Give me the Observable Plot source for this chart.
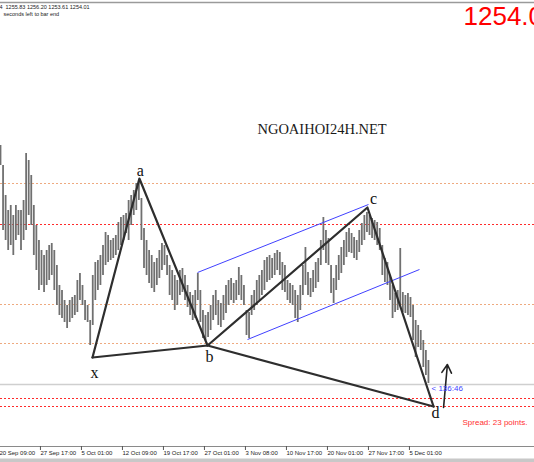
<!DOCTYPE html>
<html><head><meta charset="utf-8">
<script src="https://cdn.jsdelivr.net/npm/d3@7"></script>
<script src="https://cdn.jsdelivr.net/npm/@observablehq/plot@0.6"></script>
<style>
body{margin:0;background:#fff;}
</style></head><body><div id="chart"></div>
<script>
// bar highs / lows (price), one per H8 bar
const high = [1313.75,1308.75,1301.25,1297.5,1298.75,1296.25,1298.75,1297.5,1297.5,1300,
1311.75,1310,1306.25,1298.75,1293.75,1290,1287.5,1286.25,1287.5,1288.75,
1289.25,1287.5,1283.75,1278.75,1277.5,1275,1273.75,1275,1275.75,1276.25,
1280,1281.75,1278.75,1275,1273.75,1270,1281.25,1284.5,1285,1286.25,
1288.75,1292,1291.25,1290,1290.5,1291.25,1294.5,1295.75,1296.25,1296.75,
1300,1301.25,1302.5,1304.25,1305,1300.5,1293,1290,1287.5,1286.25,
1284.5,1285.5,1287.5,1289.25,1288.75,1286.25,1283.75,1282.5,1281.25,1280,
1282.5,1283,1281.25,1278.75,1277,1276.25,1277.5,1281.75,1277.5,1272.5,
1271.25,1272,1273.75,1276.25,1277.5,1275,1274.25,1276.25,1278.75,1280,
1280.5,1279.25,1280,1283.25,1281.25,1278.75,1272.5,1272,1276.25,1277.5,
1280,1281.25,1282.5,1285,1285.75,1286.25,1285.5,1286.75,1287.5,1287,
1284.5,1283.75,1280,1279.25,1278.75,1277.5,1276.25,1278.75,1283.75,1288.25,
1282,1280.5,1282.5,1284.5,1285.5,1290,1295.75,1292.5,1290.5,1283.75,
1280.5,1283.75,1286.25,1288.25,1290,1292,1293,1291.75,1290.75,1290,
1292.5,1294.25,1296.25,1297,1296.25,1295.5,1295,1294.5,1293,1288.75,
1285.5,1284.5,1281.25,1278.75,1276.75,1277.5,1288,1277,1276.25,1276.75,
1275.75,1273.75,1270,1268.75,1267.5,1265,1262.5,1260];
const low = [1308.75,1292.5,1290,1287.5,1288.75,1286.25,1290,1291.25,1287.5,1290,
1292.5,1296.25,1293.75,1286.25,1282.5,1277.5,1278.75,1277,1278.75,1280,
1281.25,1277.5,1273.75,1271.25,1270.5,1269.5,1268,1269.5,1270.5,1271.25,
1272,1275,1273.75,1270,1269.5,1263.75,1268.75,1275,1277.5,1278.75,
1281.25,1283.75,1284.5,1285,1285.5,1286.25,1287.5,1288.75,1290,1291.75,
1290,1293.75,1296.25,1297.5,1300,1290,1283,1281.25,1279.25,1278,
1277,1278.75,1280.5,1282.5,1283.75,1281.25,1276.25,1275,1272.5,1273.75,
1276.25,1277,1275,1273.25,1271.25,1270,1270.5,1275,1269.5,1265.5,
1265,1265.75,1267.5,1270,1271.25,1268.75,1268.25,1270,1271.75,1273.75,
1275,1274.25,1275,1276.25,1275,1273.75,1266.25,1265.5,1271.25,1272.5,
1273.75,1275,1276.25,1277.5,1279.5,1280,1280.5,1281.25,1282.5,1281.25,
1277.5,1277,1275,1274.25,1273.75,1270.5,1269.5,1272.5,1276.25,1278.75,
1276.25,1275.75,1277,1278,1279.5,1283.75,1287.5,1284.25,1283.75,1276.75,
1274.25,1277.5,1280,1281.75,1283.75,1285.75,1287,1286.75,1285.5,1285,
1287,1288.75,1290,1292,1291.25,1290.5,1290,1288.75,1287.5,1281.25,
1279.5,1278.75,1275,1270.5,1272,1272.5,1273.75,1272,1271.75,1271.25,
1270.75,1265,1260.75,1263.25,1262.5,1258.25,1256.25,1254.25];

// time axis
const tickIndex = [-1,15,31,47,63,79,95,111,127,143,159];
const tickLabels = ["20 Sep 09:00","27 Sep 17:00","5 Oct 01:00","12 Oct 09:00","19 Oct 17:00","27 Oct 01:00","3 Nov 08:00","10 Nov 17:00","20 Nov 01:00","27 Nov 17:00","5 Dec 01:00"];

// XABCD pattern pivots
const ptName  = ["x","a","b","c","d"];
const ptIndex = [35.9, 54.2, 80.8, 143.2, 169.0];
const ptPrice = [1260.75, 1305.5, 1263.75, 1298.25, 1248.5];
// label anchor points
const lblIndex = [36.7, 54.6, 81.6, 145.6, 169.8];
const lblPrice = [1257.0, 1307.3, 1261.0, 1300.3, 1246.8];

// channel lines
const chStartIndex = [76.9, 96.4];
const chStartPrice = [1282, 1265.25];
const chEndIndex   = [143.6, 163.5];
const chEndPrice   = [1299, 1282.75];

// horizontal levels
const levelPrice = [1304.25, 1294, 1274, 1264.25, 1250.5, 1248.5];
const levelKind  = ["fib","stop","fib","fib","stop","stop"];
const bidPrice = 1254.0;

// projection arrow
const arrowFrom = [172.9, 1248.25];
const arrowTo   = [174.4, 1259.0];

// texts
const headerText = "XAUUSD,H4  1255.83 1256.20 1253.61 1254.01";
const timerText = "seconds left to bar end";
const bigPrice = "1254.01";
const watermark = "NGOAIHOI24H.NET";
const wmIndex = 125.5, wmPrice = 1317.9;
const timerLabel = "< 136:46";
const timerIndex = 168.2, timerPrice = 1253.0;
const spreadText = "Spread: 23 points.";
const spreadIndex = 180.3, spreadPrice = 1244.6;

const xMax = 534 / 2.5625;
const yMin = 1238.5, yMax = 1349;

const bars = high.map((h, i) => ({i, high: h, low: low[i]}));
const pts = ptName.map((n, k) => ({n, i: ptIndex[k], p: ptPrice[k]}));
const line1 = pts;
const line2 = [pts[0], pts[2], pts[4]];
const lbls = ptName.map((n, k) => ({n, i: lblIndex[k], p: lblPrice[k]}));
const chans = chStartIndex.map((s, k) => ({x1: s, y1: chStartPrice[k], x2: chEndIndex[k], y2: chEndPrice[k]}));
const levels = levelPrice.map((p, k) => ({p, kind: levelKind[k]}));
const labelOf = new Map(tickIndex.map((t, k) => [t, tickLabels[k]]));

const chart = Plot.plot({
  width: 534, height: 462,
  marginLeft: 0, marginRight: 0, marginTop: 4, marginBottom: 16,
  x: {domain: [0, xMax], axis: null},
  y: {domain: [yMin, yMax], axis: null},
  style: {background: "#fff", fontFamily: "'Liberation Sans', Arial, sans-serif"},
  marks: [
    Plot.ruleY(levels, {y: "p", stroke: d => d.kind === "fib" ? "#eeaa80" : "#ff2a2a", strokeDasharray: "2,2", strokeWidth: 1}),
    Plot.ruleY([bidPrice], {stroke: "#cfcfcf", strokeWidth: 1.5}),
    Plot.ruleX(bars, {x: "i", y1: "low", y2: "high", stroke: "#707070", strokeWidth: 1.8}),
    Plot.link(chans, {x1: "x1", y1: "y1", x2: "x2", y2: "y2", stroke: "#4040ff", strokeWidth: 1}),
    Plot.line(line1, {x: "i", y: "p", stroke: "#2e2e2e", strokeWidth: 2.2}),
    Plot.line(line2, {x: "i", y: "p", stroke: "#2e2e2e", strokeWidth: 2.2}),
    Plot.arrow([{a: arrowFrom, b: arrowTo}], {x1: d => d.a[0], y1: d => d.a[1], x2: d => d.b[0], y2: d => d.b[1], stroke: "#222", strokeWidth: 1.6, headLength: 9}),
    Plot.text(lbls, {x: "i", y: "p", text: "n", fontFamily: "'Liberation Serif', serif", fontSize: 16, fill: "#111", ariaLabel: "pattern-labels"}),
    Plot.text([{t: watermark, i: wmIndex, p: wmPrice}], {x: "i", y: "p", text: "t", fontFamily: "'Liberation Serif', serif", fontSize: 14.5, fill: "#1a1a1a", ariaLabel: "watermark"}),
    Plot.text([{t: timerLabel, i: timerIndex, p: timerPrice}], {x: "i", y: "p", text: "t", textAnchor: "start", fill: "#4040ff", fontSize: 8}),
    Plot.text([{t: spreadText, i: spreadIndex, p: spreadPrice}], {x: "i", y: "p", text: "t", textAnchor: "start", fill: "#ff3030", fontSize: 8}),
    Plot.text([headerText], {frameAnchor: "top-left", textAnchor: "start", lineAnchor: "top", dx: -29.5, dy: 1, fontSize: 5.5, fill: "#222"}),
    Plot.text([timerText], {frameAnchor: "top-left", textAnchor: "start", lineAnchor: "top", dx: 3, dy: 8, fontSize: 5.5, fill: "#222"}),
    Plot.text([bigPrice], {frameAnchor: "top-right", textAnchor: "start", lineAnchor: "top", dx: -71, dy: 2, fontSize: 26, fill: "#ff0000"}),
    Plot.ruleY([yMax], {stroke: "#9a9a9a", strokeWidth: 1.5, dy: -2}),
    Plot.ruleY([yMin], {stroke: "#8a8a8a", strokeWidth: 1}),
    Plot.ruleY([yMin], {stroke: "#c8c8c8", strokeWidth: 4, dy: 14}),
    Plot.axisX({ticks: tickIndex, tickFormat: d => labelOf.get(d), anchor: "bottom", tickSize: 4, tickPadding: 0, textAnchor: "start", dx: 1.5, fontSize: 6, stroke: "#555", fill: "#222"})
  ]
});
// soft drop shadow behind the pattern letters and the watermark
const ns = "http://www.w3.org/2000/svg";
const defs = document.createElementNS(ns, "defs");
defs.innerHTML = '<filter id="softshadow" x="-50%" y="-50%" width="200%" height="200%"><feDropShadow dx="2" dy="2" stdDeviation="2" flood-color="#000" flood-opacity="0.45"/></filter>';
chart.insertBefore(defs, chart.firstChild);
chart.querySelectorAll('g[aria-label="pattern-labels"], g[aria-label="watermark"]').forEach(g => g.setAttribute("filter", "url(#softshadow)"));
document.getElementById("chart").append(chart);
</script></body></html>
